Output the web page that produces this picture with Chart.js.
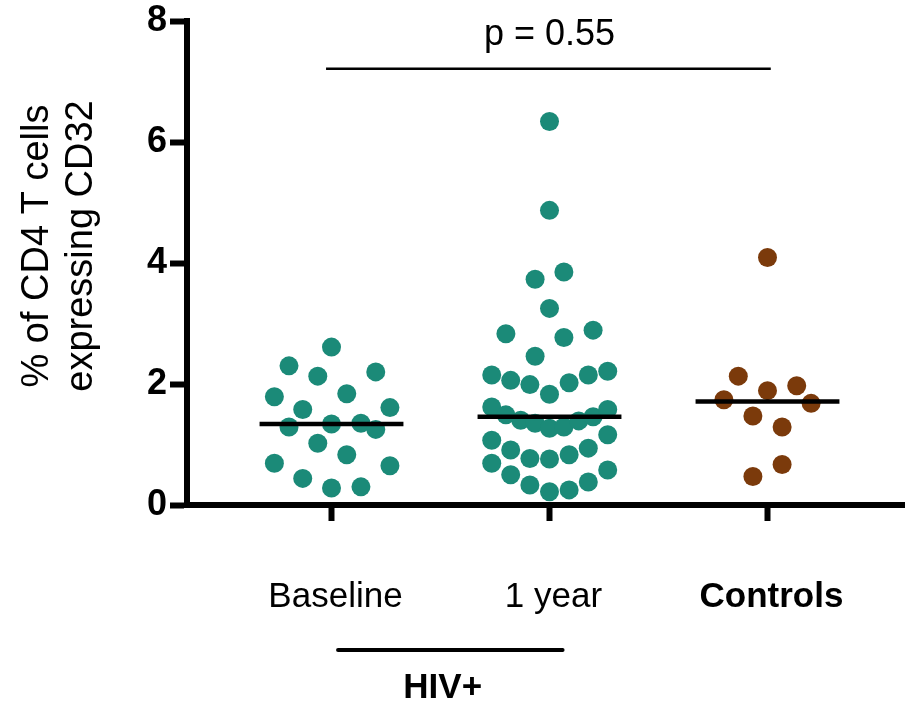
<!DOCTYPE html>
<html><head><meta charset="utf-8">
<script src="https://cdn.jsdelivr.net/npm/chart.js@4.4.1/dist/chart.umd.min.js"></script>
<style>html,body{margin:0;padding:0;background:#fff;overflow:hidden}#wrap{width:905px;height:701px;position:relative}#c{display:block}</style>
</head><body><div id="wrap"><canvas id="c"></canvas></div>
<script>
// ---- data ----
const categories = ['Baseline', '1 year', 'Controls'];
const groupLabel = 'HIV+';
const yTitle = ['% of CD4 T cells', 'expressing CD32'];
const yTicks = [0, 2, 4, 6, 8];
const pValueText = 'p = 0.55';

const baselineValues = [2.61, 2.30, 2.13, 2.20, 1.79, 1.84, 1.58, 1.61, 1.29, 1.34, 1.35, 1.25, 1.02, 0.83, 0.69, 0.65, 0.44, 0.28, 0.30];
const baselineSpread = [0, -0.195, -0.063, 0.203, -0.262, 0.07, -0.132, 0.268, -0.195, 0, 0.135, 0.203, -0.063, 0.07, -0.262, 0.268, -0.132, 0, 0.135];

const yearValues = [6.34, 4.87, 3.73, 3.85, 3.25, 2.83, 2.77, 2.89, 2.46,
  2.15, 2.06, 1.99, 1.83, 2.02, 2.15, 2.21,
  1.62, 1.49, 1.40, 1.35, 1.27, 1.29, 1.39, 1.46, 1.58,
  1.07, 0.91, 0.77, 0.76, 0.83, 0.94, 1.16,
  0.69, 0.50, 0.33, 0.22, 0.25, 0.38, 0.58];
const yearSpread = [0, 0, -0.066, 0.066, 0, -0.2, 0.066, 0.2, -0.066,
  -0.265, -0.178, -0.09, 0, 0.09, 0.178, 0.267,
  -0.265, -0.2, -0.132, -0.066, 0, 0.066, 0.134, 0.2, 0.267,
  -0.265, -0.178, -0.09, 0, 0.09, 0.178, 0.267,
  -0.265, -0.178, -0.09, 0, 0.09, 0.178, 0.267];

const controlValues = [4.09, 2.13, 1.89, 1.97, 1.74, 1.68, 1.47, 1.29, 0.67, 0.47];
const controlSpread = [0, -0.134, 0, 0.134, -0.2, 0.2, -0.067, 0.067, 0.067, -0.067];

// ---- helpers ----
function median(arr) {
  const s = [...arr].sort((a, b) => a - b);
  const m = Math.floor(s.length / 2);
  return s.length % 2 ? s[m] : (s[m - 1] + s[m]) / 2;
}
function toPoints(vals, spread, pos) {
  return vals.map((v, i) => ({ x: pos + spread[i], y: v }));
}
function medianLine(vals, pos) {
  const m = median(vals);
  return [{ x: pos - 0.33, y: m }, { x: pos + 0.33, y: m }];
}

const TEAL = '#1b8a78';
const BROWN = '#7b3a0b';
const FONT = '"Liberation Sans", Arial, Helvetica, sans-serif';
const P_LINE_Y = 7.21;
const P_TEXT_Y = 7.76;
const CATEGORY_STEP_PX = 218;        // horizontal distance between group centres
const FIRST_GROUP_OFFSET_PX = 144.5; // distance from y axis to first group

const groups = [
  { vals: baselineValues, spread: baselineSpread, color: TEAL },
  { vals: yearValues, spread: yearSpread, color: TEAL },
  { vals: controlValues, spread: controlSpread, color: BROWN }
];

const datasets = [];
groups.forEach((g, i) => {
  datasets.push({
    label: categories[i] + ' median',
    data: medianLine(g.vals, i + 1),
    showLine: true, borderColor: '#000', borderWidth: 4.5,
    pointRadius: 0, order: 0
  });
});
groups.forEach((g, i) => {
  datasets.push({
    label: categories[i],
    data: toPoints(g.vals, g.spread, i + 1),
    backgroundColor: g.color, borderColor: g.color,
    pointRadius: 9.5, pointBorderWidth: 0, pointHoverRadius: 9.5, order: 1
  });
});
datasets.push({
  label: 'p bracket',
  data: [{ x: 0.975, y: P_LINE_Y }, { x: 3.015, y: P_LINE_Y }],
  showLine: true, borderColor: '#000', borderWidth: 2.5, pointRadius: 0, order: 0
});

const fitXPlugin = {
  id: 'fitX',
  afterLayout(chart) {
    const s = chart.scales.x;
    s.min = 1 - FIRST_GROUP_OFFSET_PX / CATEGORY_STEP_PX;
    s.max = s.min + (s.right - s.left) / CATEGORY_STEP_PX;
    s.configure();
  }
};

const extrasPlugin = {
  id: 'extras',
  afterDraw(chart) {
    const { ctx, chartArea } = chart;
    const xs = chart.scales.x, ys = chart.scales.y;
    ctx.save();
    // x axis continues to the right edge of the figure
    ctx.fillStyle = '#000';
    ctx.fillRect(chartArea.right - 2, ys.getPixelForValue(0) - 3, chart.width - chartArea.right + 2, 6);
    // p value
    ctx.font = '36px ' + FONT;
    ctx.textAlign = 'center';
    ctx.textBaseline = 'middle';
    ctx.fillText(pValueText, xs.getPixelForValue(2), ys.getPixelForValue(P_TEXT_Y));
    // HIV+ group bar
    ctx.strokeStyle = '#000';
    ctx.lineWidth = 4;
    ctx.lineCap = 'round';
    ctx.beginPath();
    ctx.moveTo(xs.getPixelForValue(1.03), 650);
    ctx.lineTo(xs.getPixelForValue(2.06), 650);
    ctx.stroke();
    ctx.font = 'bold 35px ' + FONT;
    ctx.fillText(groupLabel, xs.getPixelForValue(1.51), 688);
    // y title
    ctx.translate(0, 246);
    ctx.rotate(-Math.PI / 2);
    ctx.font = '38px ' + FONT;
    ctx.fillText(yTitle[0], 0, 38);
    ctx.fillText(yTitle[1], 0, 82);
    ctx.restore();
  }
};

new Chart(document.getElementById('c'), {
  type: 'scatter',
  data: { datasets },
  plugins: [fitXPlugin, extrasPlugin],
  options: {
    responsive: true, maintainAspectRatio: false, animation: false,
    layout: { padding: { top: 20, right: 0, left: 0, bottom: 0 } },
    plugins: { legend: { display: false }, tooltip: { enabled: false } },
    events: [],
    scales: {
      x: {
        type: 'linear', min: 0.337, max: 3.633,
        afterBuildTicks: s => { s.ticks = categories.map((c, i) => ({ value: i + 1 })); },
        afterFit: s => { s.height = 196; s.paddingRight = 0; s.paddingLeft = 0; },
        ticks: {
          color: '#000', padding: 55, labelOffset: 4,
          callback: v => categories[v - 1],
          font: ctx => ({ family: FONT, size: 35, weight: (ctx.tick && ctx.tick.value === 3) ? 'bold' : 'normal' })
        },
        grid: { drawOnChartArea: false, drawTicks: true, tickLength: 16, tickWidth: 6, tickColor: '#000' },
        border: { display: true, width: 6, color: '#000' }
      },
      y: {
        min: 0, max: 8,
        afterBuildTicks: s => { s.ticks = yTicks.map(v => ({ value: v })); },
        afterFit: s => { s.width = 187; },
        ticks: { color: '#000', padding: 3, font: { family: FONT, size: 36, weight: 'bold', lineHeight: 1 } },
        grid: { drawOnChartArea: false, drawTicks: true, tickLength: 17, tickWidth: 6, tickColor: '#000' },
        border: { display: true, width: 6, color: '#000' }
      }
    }
  }
});
</script>
</body></html>
